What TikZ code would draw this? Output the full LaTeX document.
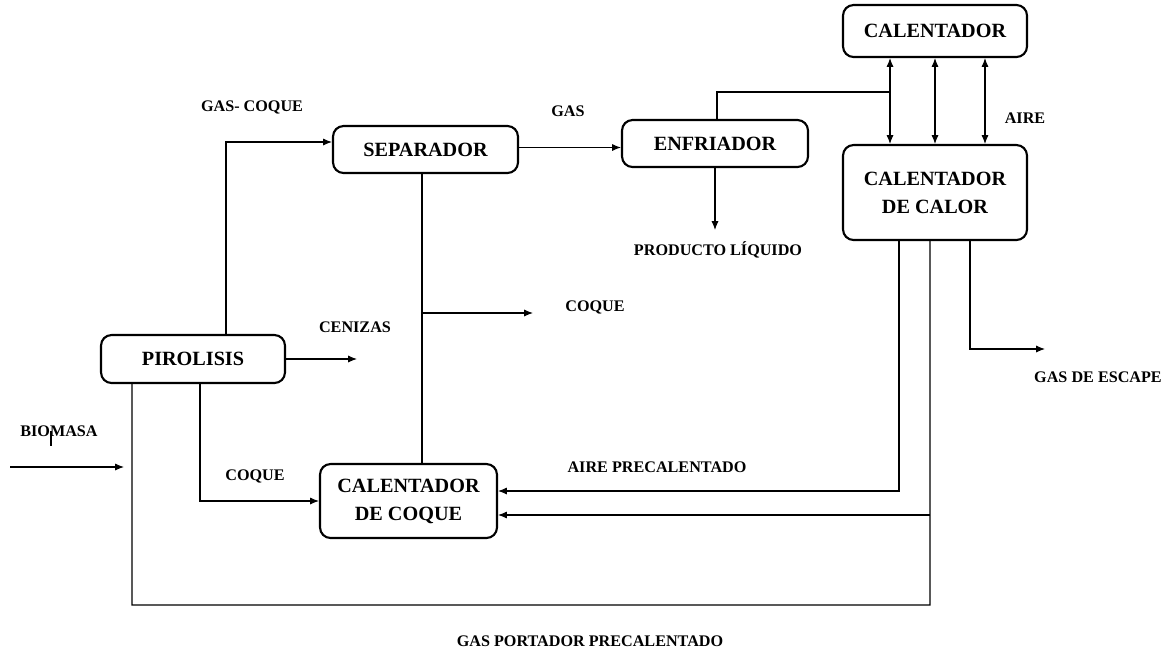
\documentclass[tikz,border=0pt]{standalone}
\usepackage{fontspec}
\setmainfont{Liberation Serif}
\usetikzlibrary{positioning, arrows.meta}
\tikzset{
>={Latex[length=5pt,width=4pt]}, % small filled arrow heads
block/.style={draw, line width=1.2pt, rounded corners=6pt, align=center, minimum width=3.68cm, minimum height=0.96cm, font=\bfseries\fontsize{11.5}{16}\selectfont}, % process units
lbl/.style={font=\bfseries\fontsize{9.2}{10}\selectfont}, % stream names
flow/.style={->, line width=0.6pt}, % streams with a head
pipe/.style={line width=0.6pt}, % streams without a head
}

\begin{document}
\begin{tikzpicture}[x=0.02cm, y=-0.02cm]
                \useasboundingbox (0,0) rectangle (1170,650);
                % units
                \node[block, minimum height=1.04cm] (cal) at (935,31) {CALENTADOR};
                \node[block, minimum height=1.9cm] (calor) at (935,192.5) {CALENTADOR\\DE CALOR};
                \node[block, minimum width=3.72cm, minimum height=0.94cm] (enf) at (715,143.5) {ENFRIADOR};
                \node[block, minimum width=3.7cm, minimum height=0.94cm] (sep) at (425.5,149.5) {SEPARADOR};
                \node[block] (pir) at (193,359) {PIROLISIS};
                \node[block, minimum width=3.54cm, minimum height=1.48cm] (coq) at (408.5,501) {CALENTADOR\\DE COQUE};
                % stream names
                \node[lbl] (lgascoq) at (252,107) {GAS- COQUE};
                \node[lbl] (lgas) at (568,111) {GAS};
                \node[lbl] (laire) at (1025,118) {AIRE};
                \node[lbl] (lliq) at (718,250) {PRODUCTO LÍQUIDO};
                \node[lbl] (lcoq1) at (595,307) {COQUE};
                \node[lbl] (lcen) at (355,327) {CENIZAS};
                \node[lbl] (lesc) at (1098,377) {GAS DE ESCAPE};
                \node[lbl] (lbio) at (59,431) {BIOMASA};
                \node[lbl] (lcoq2) at (255,476) {COQUE};
                \node[lbl] (lprec) at (657,467) {AIRE PRECALENTADO};
                \node[lbl] (lport) at (590,641) {GAS PORTADOR PRECALENTADO};
                % free ends and junctions
                \coordinate (j1) at (890,92);
                \coordinate (liq) at (715,230);
                \coordinate (jc) at (422,313);
                \coordinate (coqout) at (533,313);
                \coordinate (cen) at (357,359);
                \coordinate (bioin) at (10,467);
                \coordinate (bioend) at (124,467);
                \coordinate (gp) at (930,605);
                \coordinate (j2) at (930,515);
                \coordinate (esc) at (1045,349);
                % streams
                \draw[<->, line width=0.6pt] ([xshift=-0.9cm]cal.south) -- ([xshift=-0.9cm]calor.north);
                \draw[<->, line width=0.6pt] (cal.south) -- (calor.north);
                \draw[<->, line width=0.6pt] ([xshift=1cm]cal.south) -- ([xshift=1cm]calor.north);
                \draw[pipe] ([xshift=0.04cm]enf.north) |- (j1);
                \draw[flow] (enf.south) -- (liq);
                \draw[flow] ([yshift=0.04cm]sep.east) -- ([yshift=0.04cm]sep.east -| enf.west);
                \draw[flow] ([xshift=0.66cm]pir.north) |- ([yshift=0.15cm]sep.west);
                \draw[pipe] ([xshift=-0.07cm]sep.south) -- ([xshift=-0.07cm]sep.south |- coq.north);
                \draw[flow] (jc) -- (coqout);
                \draw[flow] (pir.east) -- (cen);
                \draw[flow] (bioin) -- (bioend);
                \draw[pipe] (51,431) -- (51,446);
                \draw[flow] ([xshift=0.14cm]pir.south) |- (coq.west);
                \draw[pipe] ([xshift=-1.22cm]pir.south) |- (gp) -- ([xshift=-0.1cm]calor.south);
                \draw[flow] (j2) -- (j2 -| coq.east);
                \draw[flow] ([xshift=-0.72cm]calor.south) |- ([yshift=0.2cm]coq.east);
                \draw[flow] ([xshift=0.7cm]calor.south) |- (esc);
\end{tikzpicture}
\end{document}
